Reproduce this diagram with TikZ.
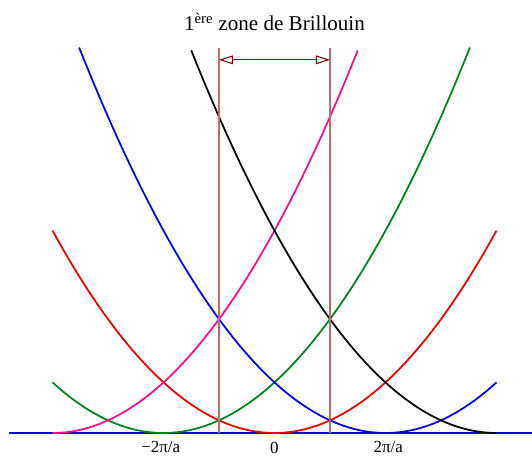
\documentclass[tikz,border=0pt]{standalone}
\usepackage{fontspec}
\setmainfont{Liberation Serif}
\usetikzlibrary{arrows.meta}
\definecolor{cred}{HTML}{E60000}
\definecolor{cgreen}{HTML}{008020}
\definecolor{cblue}{HTML}{0000E6}
\definecolor{cpink}{HTML}{F5108A}
\definecolor{czone}{HTML}{B07070}
\definecolor{carrow}{HTML}{800000}
\tikzset{
  curve/.style={draw=#1, line width=1.5pt, line join=round},
  zone/.style={draw=czone, line width=1.5pt},
  span/.style={{Triangle[open, length=4.2mm, width=2.6mm]}-{Triangle[open, length=4.2mm, width=2.6mm]}, draw=carrow, line width=0.9pt},
  klabel/.style={font=\fontsize{14.5}{17}\selectfont, anchor=base, inner sep=0pt},
}

\begin{document}
\begin{tikzpicture}[x=1.665cm, y=0.3795cm]
  \useasboundingbox (-4.946,-1.897) rectangle (4.64,34.23);
  % axis
  \coordinate (axl) at (-4.78,0);
  \coordinate (axr) at (4.64,0);
  \draw[cblue, line width=1pt] (axl) -- (axr);
  % free-electron parabolas shifted by G
  \foreach \kc/\col/\kmin/\kmax in {0/cred/-4/4, -2/cgreen/-4/3.52, 2/cblue/-3.52/4, -4/cpink/-4/1.5, 4/black/-1.5/4} {
    \draw[curve=\col, domain=\kmin:\kmax, samples=80] plot (\x, {(\x-\kc)^2});
  }
  % first Brillouin zone
  \coordinate (zlb) at (-1,0);
  \coordinate (zlt) at (-1,30.4);
  \coordinate (zrb) at (1,0);
  \coordinate (zrt) at (1,30.4);
  \draw[zone] (zlb) -- (zlt);
  \draw[zone] (zrb) -- (zrt);
  \coordinate (spl) at (-1,29.5);
  \coordinate (spr) at (1,29.5);
  \draw[span] (spl) -- (spr);
  \node[font=\fontsize{18}{21}\selectfont, anchor=base] (title) at (0,31.8) {1\textsuperscript{ère} zone de Brillouin};
  % k labels
  \node[klabel] (kminus) at (-2.05,-1.58) {−2π/a};
  \node[klabel] (kzero) at (0,-1.6) {0};
  \node[klabel] (kplus) at (2.05,-1.58) {2π/a};
\end{tikzpicture}
\end{document}
